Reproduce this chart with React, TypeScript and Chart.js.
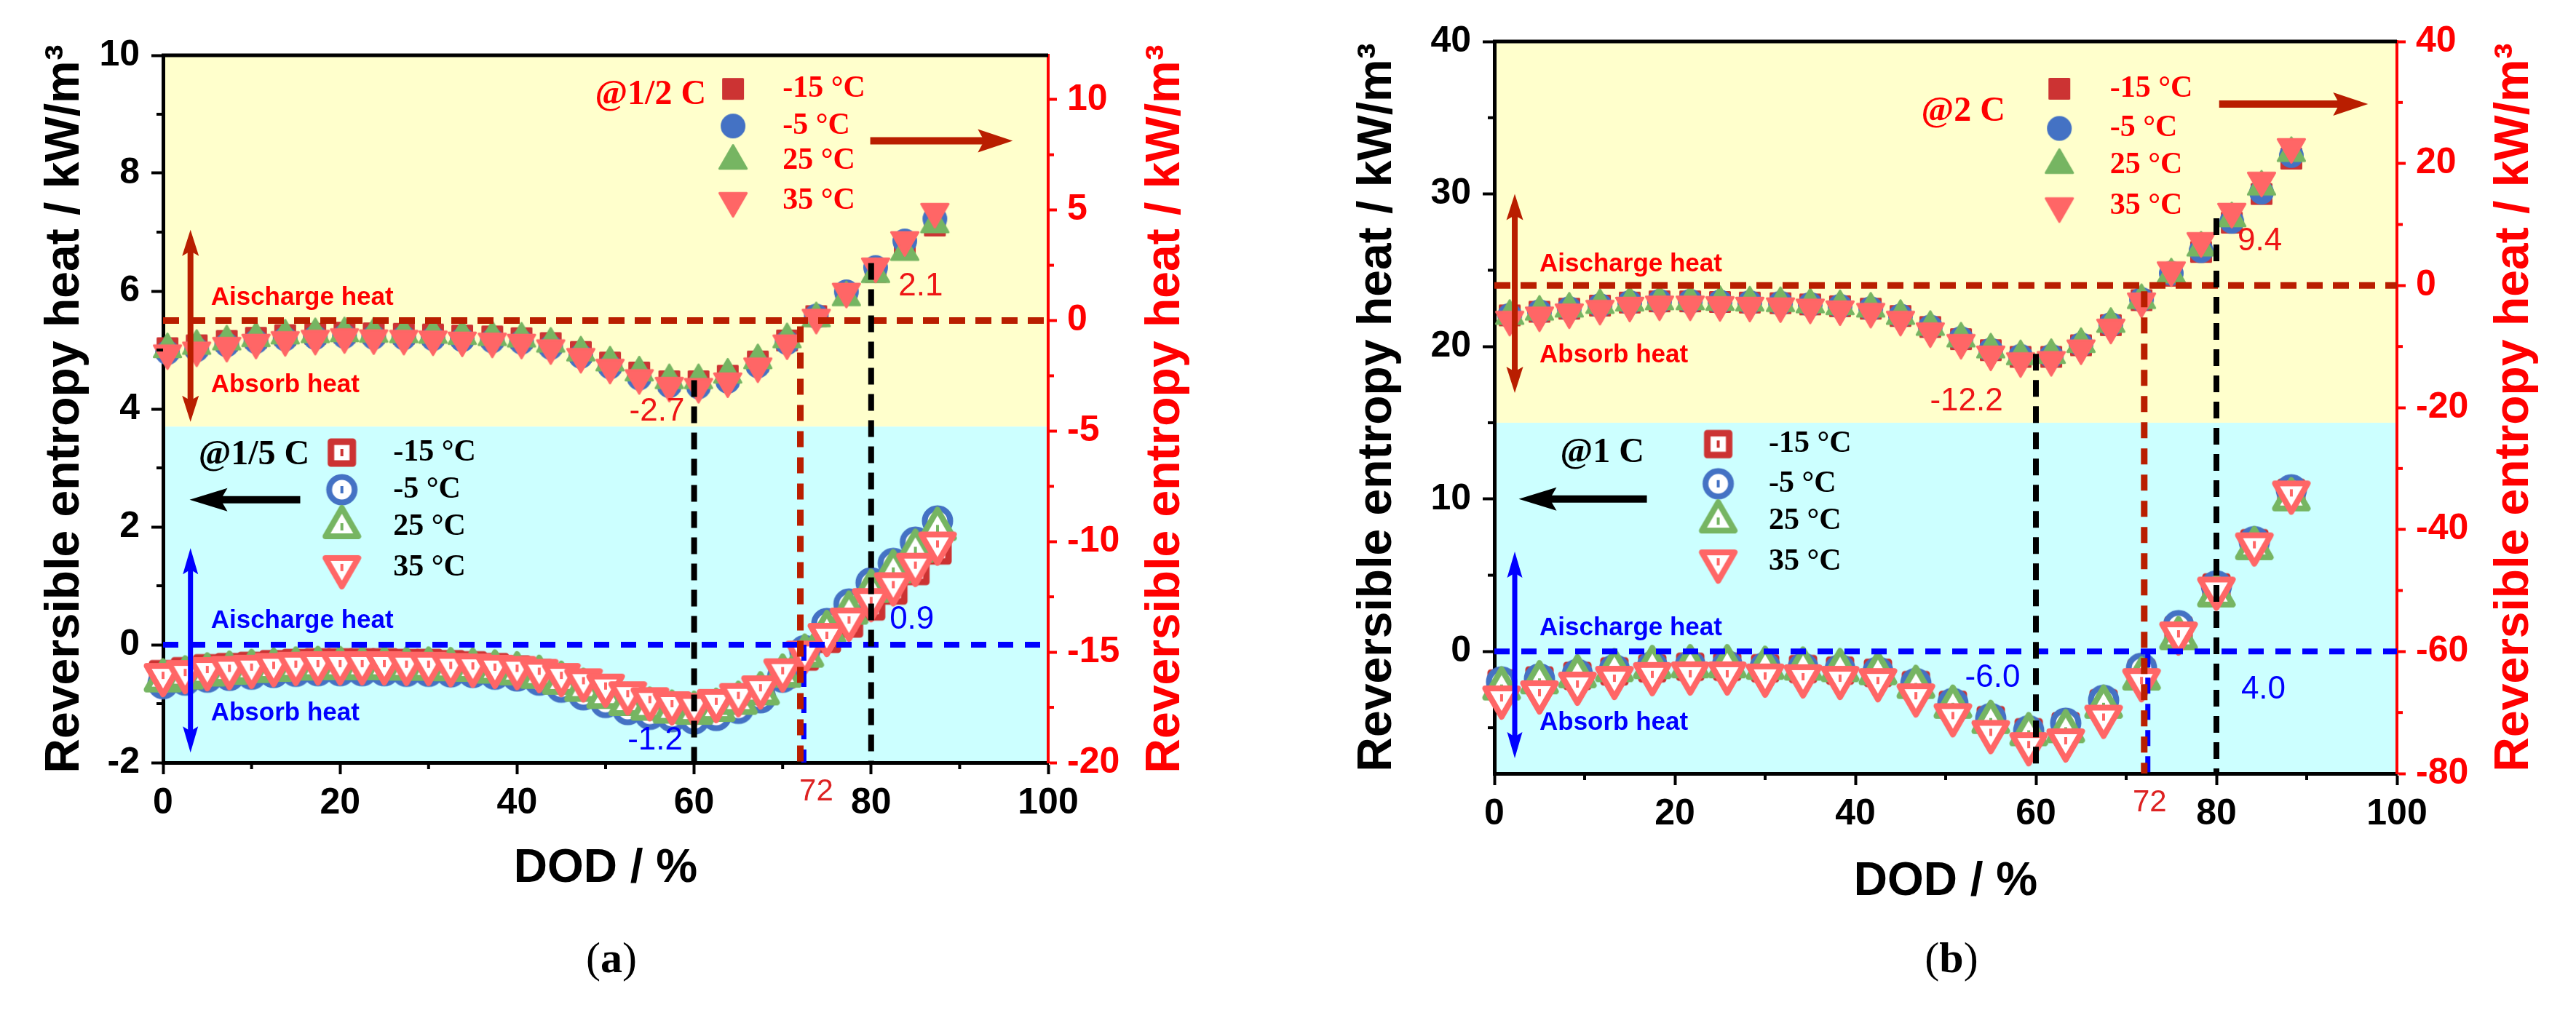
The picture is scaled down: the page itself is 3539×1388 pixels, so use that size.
import { useEffect, useRef } from 'react'
import { Chart, registerables } from 'chart.js'

Chart.register(...registerables)

const SANS = '"Liberation Sans", Arial, sans-serif'
const SERIF = '"Liberation Serif", "Times New Roman", serif'
const RED = '#ff0000'
const VALUE_RED = '#ee1515'
const DARK_RED = '#b91e00'
const BLUE = '#0000ff'
const YELLOW = '#ffffcc'
const CYAN = '#ccffff'

Chart.defaults.font.family = SANS

const temps = ['-15 °C', '-5 °C', '25 °C', '35 °C']
const seriesColors = ['#cc3333', '#4472c4', '#76b562', '#ff6666']
const shapes = ['square', 'circle', 'up', 'down']

// (a) 1/2 C, right axis
const dodHalfC = [0.5, 3.8, 7.2, 10.5, 13.8, 17.2, 20.5, 23.8, 27.2, 30.5, 33.8, 37.2, 40.5, 43.8, 47.2, 50.5, 53.8, 57.2, 60.5, 63.8, 67.2, 70.5, 73.8, 77.2, 80.5, 83.8, 87.2]
const halfC_m15 = [-1.25, -1.12, -0.92, -0.78, -0.66, -0.6, -0.55, -0.58, -0.6, -0.63, -0.68, -0.72, -0.8, -1.02, -1.42, -1.9, -2.35, -2.75, -2.75, -2.5, -1.85, -0.9, 0.2, 1.2, 2.2, 3.3, 4.3]
const halfC_m5 = [-1.45, -1.32, -1.1, -0.95, -0.83, -0.77, -0.72, -0.76, -0.78, -0.82, -0.87, -0.92, -0.98, -1.22, -1.62, -2.1, -2.6, -2.95, -3.0, -2.75, -2.05, -1.0, 0.2, 1.3, 2.4, 3.6, 4.6]
const halfC_25 = [-1.3, -1.15, -0.95, -0.8, -0.68, -0.62, -0.58, -0.6, -0.62, -0.65, -0.7, -0.75, -0.82, -1.05, -1.45, -1.9, -2.35, -2.7, -2.7, -2.45, -1.8, -0.85, 0.1, 1.05, 2.1, 3.1, 4.35]
const halfC_35 = [-1.48, -1.35, -1.14, -1.0, -0.88, -0.82, -0.75, -0.8, -0.82, -0.85, -0.9, -0.95, -1.0, -1.25, -1.64, -2.13, -2.6, -2.95, -3.0, -2.75, -2.07, -1.03, 0.13, 1.31, 2.45, 3.64, 4.92]

// (a) 1/5 C, left axis
const dodFifthC = [0, 2.5, 5, 7.5, 10, 12.5, 15, 17.5, 20, 22.5, 25, 27.5, 30, 32.5, 35, 37.5, 40, 42.5, 45, 47.5, 50, 52.5, 55, 57.5, 60, 62.5, 65, 67.5, 70, 72.5, 75, 77.5, 80, 82.5, 85, 87.5]
const fifthC_m15 = [-0.5, -0.45, -0.4, -0.38, -0.36, -0.33, -0.31, -0.3, -0.3, -0.3, -0.3, -0.31, -0.31, -0.33, -0.35, -0.38, -0.42, -0.48, -0.57, -0.67, -0.78, -0.9, -1.0, -1.06, -1.08, -1.02, -0.92, -0.78, -0.5, -0.2, 0.1, 0.36, 0.65, 0.92, 1.25, 1.6]
const fifthC_m5 = [-0.66, -0.6, -0.55, -0.52, -0.5, -0.47, -0.45, -0.44, -0.44, -0.44, -0.44, -0.45, -0.45, -0.46, -0.47, -0.5, -0.53, -0.6, -0.72, -0.85, -0.98, -1.1, -1.18, -1.22, -1.26, -1.2, -1.08, -0.9, -0.55, -0.1, 0.36, 0.69, 1.05, 1.38, 1.74, 2.1]
const fifthC_25 = [-0.6, -0.55, -0.5, -0.47, -0.44, -0.42, -0.4, -0.39, -0.39, -0.39, -0.39, -0.4, -0.4, -0.41, -0.42, -0.45, -0.48, -0.54, -0.64, -0.76, -0.88, -1.0, -1.08, -1.13, -1.15, -1.1, -0.98, -0.82, -0.52, -0.18, 0.22, 0.55, 0.92, 1.25, 1.6, 1.97]
const fifthC_35 = [-0.52, -0.47, -0.42, -0.4, -0.38, -0.35, -0.33, -0.32, -0.32, -0.32, -0.32, -0.33, -0.33, -0.35, -0.36, -0.38, -0.4, -0.45, -0.52, -0.61, -0.7, -0.83, -0.93, -1.0, -1.03, -0.96, -0.86, -0.73, -0.44, -0.14, 0.16, 0.42, 0.75, 1.02, 1.35, 1.71]

// (b) 2 C, right axis
const dod2C = [1.7, 5.0, 8.3, 11.7, 15.0, 18.3, 21.7, 25.0, 28.3, 31.7, 35.0, 38.3, 41.7, 45.0, 48.3, 51.7, 55.0, 58.3, 61.7, 65.0, 68.3, 71.7, 75.0, 78.3, 81.7, 85.0, 88.3]
const twoC_m15 = [-4.9, -4.3, -3.8, -3.3, -2.8, -2.6, -2.6, -2.7, -2.8, -2.9, -3.1, -3.4, -3.8, -5.0, -6.8, -8.8, -10.6, -11.7, -11.7, -9.8, -6.5, -2.4, 1.6, 5.5, 10.3, 15.0, 20.8]
const twoC_m5 = [-4.9, -4.3, -3.8, -3.3, -2.8, -2.6, -2.6, -2.7, -2.8, -2.9, -3.1, -3.4, -3.8, -5.0, -6.8, -8.7, -10.6, -11.6, -11.6, -9.7, -6.4, -2.3, 2.0, 5.7, 10.5, 15.3, 21.3]
const twoC_25 = [-5.0, -4.3, -3.8, -3.2, -2.8, -2.6, -2.6, -2.7, -2.8, -2.9, -3.1, -3.4, -3.8, -5.0, -6.8, -8.7, -10.5, -11.6, -11.4, -9.6, -6.3, -2.4, 1.8, 6.2, 11.0, 16.2, 21.7]
const twoC_35 = [-5.6, -4.9, -4.4, -3.8, -3.3, -3.1, -3.1, -3.2, -3.3, -3.4, -3.6, -3.9, -4.3, -5.6, -7.5, -9.4, -11.3, -12.4, -12.2, -10.3, -6.9, -2.6, 2.5, 7.3, 12.1, 17.2, 22.7]

// (b) 1 C, left axis
const dod1C = [0.8, 5.0, 9.2, 13.3, 17.5, 21.7, 25.8, 30.0, 34.2, 38.3, 42.5, 46.7, 50.8, 55.0, 59.2, 63.3, 67.5, 71.7, 75.8, 80.0, 84.2, 88.3]
const oneC_m15 = [-2.1, -1.9, -1.6, -1.3, -1.1, -1.0, -1.0, -1.1, -1.15, -1.25, -1.4, -2.2, -3.5, -4.5, -5.3, -4.9, -3.4, -1.4, 1.4, 4.2, 7.1, 10.4]
const oneC_m5 = [-2.0, -1.8, -1.5, -1.2, -1.0, -0.95, -0.95, -1.05, -1.1, -1.2, -1.35, -2.1, -3.4, -4.4, -5.2, -4.7, -3.2, -1.1, 1.7, 4.3, 7.2, 10.6]
const oneC_25 = [-2.4, -2.0, -1.6, -1.2, -1.0, -0.95, -0.95, -1.05, -1.1, -1.2, -1.4, -2.3, -3.6, -4.6, -5.4, -5.2, -3.6, -1.75, 0.9, 3.7, 6.8, 10.0]
const oneC_35 = [-3.04, -2.7, -2.13, -1.75, -1.5, -1.46, -1.46, -1.6, -1.65, -1.75, -1.9, -2.9, -4.2, -5.3, -6.1, -5.85, -4.3, -1.9, 1.16, 4.1, 7.0, 10.4]

// annotation places are in axis units (x: DOD, y: left axis)
const panelA = {
  left: 0,
  width: 1780,
  area: { left: 224, right: 1440, top: 76, bottom: 1048 },
  y: { min: -2, max: 10, step: 2, minor: [-1, 1, 3, 5, 7, 9] },
  y2: { min: -20, max: 12, step: 5, minor: [-17.5, -12.5, -7.5, -2.5, 2.5, 7.5] },
  split: 3.7,
  yTitlePad: 50,
  xTitlePad: 155,
  letter: 'a',
  upper: { rate: '@1/2 C', dod: dodHalfC, series: [halfC_m15, halfC_m5, halfC_25, halfC_35] },
  lower: { rate: '@1/5 C', dod: dodFifthC, series: [fifthC_m15, fifthC_m5, fifthC_25, fifthC_35] },
  notes: {
    upperTag: [48.8, 9.33],
    upperLegend: { mx: 64.4, tx: 70.0, rows: [9.43, 8.8, 8.21, 7.53] },
    rightArrow: [79.9, 96, 8.55],
    redArrow: [3.1, 7.04, 3.78],
    redText: [5.4, 5.89, 4.4],
    upperValues: [['-2.7', 55.8, 3.95], ['2.1', 85.6, 6.07]],
    lowerTag: [4.0, 3.22],
    lowerLegend: { mx: 20.2, tx: 26.0, rows: [3.26, 2.63, 2.0, 1.31] },
    leftArrow: [15.5, 3.0, 2.46],
    blueArrow: [3.1, 1.64, -1.83],
    blueText: [5.4, 0.4, -1.16],
    lowerValues: [['-1.2', 55.6, -1.63], ['0.9', 84.6, 0.42]],
    drops: [[60, -2.7], [80, 2.6]],
    mark72: 73.8,
  },
}

const panelB = {
  left: 1780,
  width: 1759,
  area: { left: 273, right: 1513, top: 57, bottom: 1063 },
  y: { min: -8, max: 40, step: 10, minor: [-5, 5, 15, 25, 35] },
  y2: { min: -80, max: 40, step: 20, minor: [-70, -50, -30, -10, 10, 30] },
  split: 15,
  yTitlePad: 73,
  xTitlePad: 137,
  letter: 'b',
  upper: { rate: '@2 C', dod: dod2C, series: [twoC_m15, twoC_m5, twoC_25, twoC_35] },
  lower: { rate: '@1 C', dod: dod1C, series: [oneC_m15, oneC_m5, oneC_25, oneC_35] },
  notes: {
    upperTag: [47.3, 35.37],
    upperLegend: { mx: 62.6, tx: 68.2, rows: [36.9, 34.3, 31.9, 29.2] },
    rightArrow: [80.3, 96.8, 35.9],
    redArrow: [2.26, 30.0, 16.95],
    redText: [5.0, 25.4, 19.4],
    upperValues: [['-12.2', 52.3, 16.4], ['9.4', 84.8, 26.9]],
    lowerTag: [7.3, 13.0],
    lowerLegend: { mx: 24.8, tx: 30.4, rows: [13.6, 11.0, 8.55, 5.88] },
    leftArrow: [16.9, 2.7, 10.0],
    blueArrow: [2.26, 6.55, -7.0],
    blueText: [5.0, 1.54, -4.7],
    lowerValues: [['-6.0', 55.2, -1.75], ['4.0', 85.2, -2.5]],
    drops: [[60, -11.2], [80, 11.0]],
    mark72: 72.6,
  },
}

type PanelSpec = typeof panelA

function makeMarker(shape: string, color: string, hollow: boolean) {
  const size = 64
  const c = document.createElement('canvas')
  c.width = size
  c.height = size
  const g = c.getContext('2d')!
  const m = size / 2
  g.beginPath()
  if (shape === 'square') {
    const h = hollow ? 15 : 13.5
    g.rect(m - h, m - h, 2 * h, 2 * h)
  } else if (shape === 'circle') {
    g.arc(m, m, hollow ? 17.5 : 15.5, 0, Math.PI * 2)
  } else {
    const r = hollow ? 26 : 21.5
    const s = shape === 'up' ? 1 : -1
    g.moveTo(m, m - s * r)
    g.lineTo(m + r * 0.866, m + s * r * 0.5)
    g.lineTo(m - r * 0.866, m + s * r * 0.5)
    g.closePath()
  }
  g.lineJoin = 'round'
  g.strokeStyle = color
  if (hollow) {
    g.fillStyle = '#ffffff'
    g.fill()
    g.lineWidth = shape === 'square' ? 9 : 8
    g.stroke()
    g.fillStyle = color
    g.fillRect(m - 2, m - 5, 4, 10)
  } else {
    g.fillStyle = color
    g.fill()
    g.lineWidth = 3
    g.stroke()
  }
  return c
}

function line(ctx: CanvasRenderingContext2D, x1: number, y1: number, x2: number, y2: number, color: string, width: number, dash: number[] = []) {
  ctx.save()
  ctx.strokeStyle = color
  ctx.lineWidth = width
  ctx.setLineDash(dash)
  ctx.beginPath()
  ctx.moveTo(x1, y1)
  ctx.lineTo(x2, y2)
  ctx.stroke()
  ctx.restore()
}

function label(ctx: CanvasRenderingContext2D, text: string, x: number, y: number, font: string, color: string, align: CanvasTextAlign = 'left') {
  ctx.save()
  ctx.font = font
  ctx.fillStyle = color
  ctx.textAlign = align
  ctx.textBaseline = 'middle'
  ctx.fillText(text, x, y)
  ctx.restore()
}

function arrowHead(ctx: CanvasRenderingContext2D, x: number, y: number, ang: number, len: number, w: number) {
  const c = Math.cos(ang)
  const s = Math.sin(ang)
  ctx.beginPath()
  ctx.moveTo(x, y)
  ctx.lineTo(x - len * c - (w / 2) * s, y - len * s + (w / 2) * c)
  ctx.lineTo(x - len * 0.82 * c, y - len * 0.82 * s)
  ctx.lineTo(x - len * c + (w / 2) * s, y - len * s - (w / 2) * c)
  ctx.closePath()
  ctx.fill()
}

function arrow(ctx: CanvasRenderingContext2D, x1: number, y1: number, x2: number, y2: number, color: string, width: number, len: number, w: number, both = false) {
  const ang = Math.atan2(y2 - y1, x2 - x1)
  const c = Math.cos(ang)
  const s = Math.sin(ang)
  ctx.save()
  ctx.strokeStyle = color
  ctx.fillStyle = color
  ctx.lineWidth = width
  ctx.setLineDash([])
  ctx.beginPath()
  ctx.moveTo(both ? x1 + len * 0.8 * c : x1, both ? y1 + len * 0.8 * s : y1)
  ctx.lineTo(x2 - len * 0.8 * c, y2 - len * 0.8 * s)
  ctx.stroke()
  arrowHead(ctx, x2, y2, ang, len, w)
  if (both) arrowHead(ctx, x1, y1, ang + Math.PI, len, w)
  ctx.restore()
}

function decorations(p: PanelSpec, filled: HTMLCanvasElement[], hollow: HTMLCanvasElement[]) {
  return {
    id: 'decorations',
    beforeDraw(chart: any) {
      const { ctx, chartArea: a } = chart
      const ys = chart.scales.y.getPixelForValue(p.split)
      ctx.save()
      ctx.fillStyle = YELLOW
      ctx.fillRect(a.left, a.top, a.right - a.left, ys - a.top)
      ctx.fillStyle = CYAN
      ctx.fillRect(a.left, ys, a.right - a.left, a.bottom - ys)
      ctx.restore()
    },
    afterDatasetsDraw(chart: any) {
      const { ctx, chartArea: a } = chart
      const X = (v: number) => chart.scales.x.getPixelForValue(v)
      const Y = (v: number) => chart.scales.y.getPixelForValue(v)
      const Y2 = (v: number) => chart.scales.y2.getPixelForValue(v)
      const n = p.notes as any

      // reference lines
      line(ctx, a.left, Y2(0), a.right, Y2(0), DARK_RED, 9, [22, 14])
      line(ctx, a.left, Y(0), a.right, Y(0), BLUE, 8, [21, 16])
      line(ctx, X(72.4), Y(0), X(72.4), a.bottom, BLUE, 7, [22, 14])
      line(ctx, X(72), Y2(0) + 8, X(72), a.bottom, DARK_RED, 9, [22, 14])
      for (const [x, v] of n.drops) line(ctx, X(x), Y2(v), X(x), a.bottom, '#000000', 8, [23, 13])

      // upper group (right axis)
      label(ctx, p.upper.rate, X(n.upperTag[0]), Y(n.upperTag[1]), `bold 48px ${SERIF}`, RED)
      n.upperLegend.rows.forEach((r: number, i: number) => {
        const img = filled[i]
        ctx.drawImage(img, X(n.upperLegend.mx) - img.width / 2, Y(r) - img.height / 2)
        label(ctx, temps[i], X(n.upperLegend.tx), Y(r), `bold 42px ${SERIF}`, RED)
      })
      arrow(ctx, X(n.rightArrow[0]), Y(n.rightArrow[2]), X(n.rightArrow[1]), Y(n.rightArrow[2]), DARK_RED, 10, 48, 32)
      arrow(ctx, X(n.redArrow[0]), Y(n.redArrow[1]), X(n.redArrow[0]), Y(n.redArrow[2]), DARK_RED, 8, 36, 23, true)
      label(ctx, 'Aischarge heat', X(n.redText[0]), Y(n.redText[1]), `bold 35px ${SANS}`, RED)
      label(ctx, 'Absorb heat', X(n.redText[0]), Y(n.redText[2]), `bold 35px ${SANS}`, RED)
      for (const [t, x, y] of n.upperValues) label(ctx, t, X(x), Y(y), `44px ${SANS}`, VALUE_RED, 'center')

      // lower group (left axis)
      label(ctx, p.lower.rate, X(n.lowerTag[0]), Y(n.lowerTag[1]), `bold 48px ${SERIF}`, '#000000')
      n.lowerLegend.rows.forEach((r: number, i: number) => {
        const img = hollow[i]
        ctx.drawImage(img, X(n.lowerLegend.mx) - img.width / 2, Y(r) - img.height / 2)
        label(ctx, temps[i], X(n.lowerLegend.tx), Y(r), `bold 42px ${SERIF}`, '#000000')
      })
      arrow(ctx, X(n.leftArrow[0]), Y(n.leftArrow[2]), X(n.leftArrow[1]), Y(n.leftArrow[2]), '#000000', 10, 52, 32)
      arrow(ctx, X(n.blueArrow[0]), Y(n.blueArrow[1]), X(n.blueArrow[0]), Y(n.blueArrow[2]), BLUE, 7, 36, 21, true)
      label(ctx, 'Aischarge heat', X(n.blueText[0]), Y(n.blueText[1]), `bold 35px ${SANS}`, BLUE)
      label(ctx, 'Absorb heat', X(n.blueText[0]), Y(n.blueText[2]), `bold 35px ${SANS}`, BLUE)
      for (const [t, x, y] of n.lowerValues) label(ctx, t, X(x), Y(y), `44px ${SANS}`, BLUE, 'center')
    },
    afterDraw(chart: any) {
      const { ctx, chartArea: a } = chart
      const X = (v: number) => chart.scales.x.getPixelForValue(v)
      const Y = (v: number) => chart.scales.y.getPixelForValue(v)
      const Y2 = (v: number) => chart.scales.y2.getPixelForValue(v)

      // top frame and minor ticks
      line(ctx, a.left - 2, a.top, a.right, a.top, '#000000', 5)
      for (const v of p.y.minor) line(ctx, a.left - 9, Y(v), a.left, Y(v), '#000000', 4)
      for (const v of p.y2.minor) line(ctx, a.right, Y2(v), a.right + 8, Y2(v), RED, 4)
      for (const v of [10, 30, 50, 70, 90]) line(ctx, X(v), a.bottom, X(v), a.bottom + 9, '#000000', 4)

      label(ctx, '72', X(p.notes.mark72), a.bottom + 40, `42px ${SANS}`, '#dd2222', 'center')

      // right axis title, reading upwards like the left one
      ctx.save()
      ctx.translate(a.right + 162, (a.top + a.bottom) / 2)
      ctx.rotate(-Math.PI / 2)
      label(ctx, 'Reversible entropy heat / kW/m³', 0, 0, `bold 66px ${SANS}`, RED, 'center')
      ctx.restore()

      // panel letter
      const cx = (a.left + a.right) / 2 + 8
      ctx.save()
      ctx.textBaseline = 'middle'
      ctx.fillStyle = '#000000'
      ctx.font = `60px ${SERIF}`
      const wp = ctx.measureText('(').width
      ctx.font = `bold 60px ${SERIF}`
      const wl = ctx.measureText(p.letter).width
      let x0 = cx - (2 * wp + wl) / 2
      ctx.font = `60px ${SERIF}`
      ctx.fillText('(', x0, 1320)
      x0 += wp
      ctx.font = `bold 60px ${SERIF}`
      ctx.fillText(p.letter, x0, 1320)
      x0 += wl
      ctx.font = `60px ${SERIF}`
      ctx.fillText(')', x0, 1320)
      ctx.restore()
    },
  }
}

function groupDatasets(dod: number[], series: number[][], imgs: HTMLCanvasElement[], axis: string) {
  return series.map((ys, i) => ({
    label: temps[i],
    data: dod.map((x, k) => ({ x, y: ys[k] })),
    yAxisID: axis,
    pointStyle: imgs[i],
    pointRadius: 22,
    showLine: false,
    clip: false,
    order: 3 - i,
  }))
}

function HeatPanel({ spec }: { spec: PanelSpec }) {
  const canvasRef = useRef<HTMLCanvasElement>(null)
  const chartInstance = useRef<Chart | null>(null)

  useEffect(() => {
    if (!canvasRef.current) return
    if (chartInstance.current) chartInstance.current.destroy()

    const filled = shapes.map((s, i) => makeMarker(s, seriesColors[i], false))
    const hollow = shapes.map((s, i) => makeMarker(s, seriesColors[i], true))
    const tickFont = { family: SANS, size: 50, weight: 'bold' as const }
    const titleFont = { family: SANS, size: 66, weight: 'bold' as const }
    const H = 1388

    chartInstance.current = new Chart(canvasRef.current, {
      type: 'scatter',
      data: {
        datasets: [
          ...groupDatasets(spec.upper.dod, spec.upper.series, filled, 'y2'),
          ...groupDatasets(spec.lower.dod, spec.lower.series, hollow, 'y'),
        ] as any,
      },
      options: {
        responsive: false,
        animation: false,
        events: [],
        layout: { padding: { top: spec.area.top, left: 0, right: 0, bottom: 0 } },
        plugins: { legend: { display: false }, tooltip: { enabled: false } },
        scales: {
          x: {
            type: 'linear',
            position: 'bottom',
            min: 0,
            max: 100,
            ticks: { stepSize: 20, color: '#000000', font: tickFont, padding: 10, maxRotation: 0 },
            grid: { drawOnChartArea: false, tickLength: 16, tickWidth: 4, tickColor: '#000000' },
            border: { color: '#000000', width: 5 },
            title: {
              display: true,
              text: 'DOD / %',
              color: '#000000',
              font: { family: SANS, size: 64, weight: 'bold' },
              padding: { top: 0, bottom: spec.xTitlePad },
            },
            afterFit: (s: any) => { s.height = H - spec.area.bottom },
          },
          y: {
            type: 'linear',
            position: 'left',
            min: spec.y.min,
            max: spec.y.max,
            ticks: { stepSize: spec.y.step, includeBounds: false, color: '#000000', font: tickFont, padding: 16 },
            grid: { drawOnChartArea: false, tickLength: 16, tickWidth: 4, tickColor: '#000000' },
            border: { color: '#000000', width: 5 },
            title: {
              display: true,
              text: 'Reversible entropy heat / kW/m³',
              color: '#000000',
              font: titleFont,
              padding: { top: spec.yTitlePad, bottom: 0 },
            },
            afterFit: (s: any) => { s.width = spec.area.left },
          },
          y2: {
            type: 'linear',
            position: 'right',
            min: spec.y2.min,
            max: spec.y2.max,
            ticks: { stepSize: spec.y2.step, includeBounds: false, color: RED, font: tickFont, padding: 14 },
            grid: { drawOnChartArea: false, tickLength: 12, tickWidth: 4, tickColor: RED },
            border: { color: RED, width: 4 },
            afterFit: (s: any) => { s.width = spec.width - spec.area.right },
          },
        },
      } as any,
      plugins: [decorations(spec, filled, hollow)],
    })

    return () => {
      if (chartInstance.current) {
        chartInstance.current.destroy()
        chartInstance.current = null
      }
    }
  }, [spec])

  return (
    <canvas
      ref={canvasRef}
      width={spec.width}
      height={1388}
      style={{ position: 'absolute', left: spec.left, top: 0 }}
    />
  )
}

export default function App() {
  return (
    <div style={{ position: 'absolute', left: 0, top: 0, width: 3539, height: 1388, background: '#ffffff', overflow: 'hidden' }}>
      <HeatPanel spec={panelA} />
      <HeatPanel spec={panelB} />
    </div>
  )
}
